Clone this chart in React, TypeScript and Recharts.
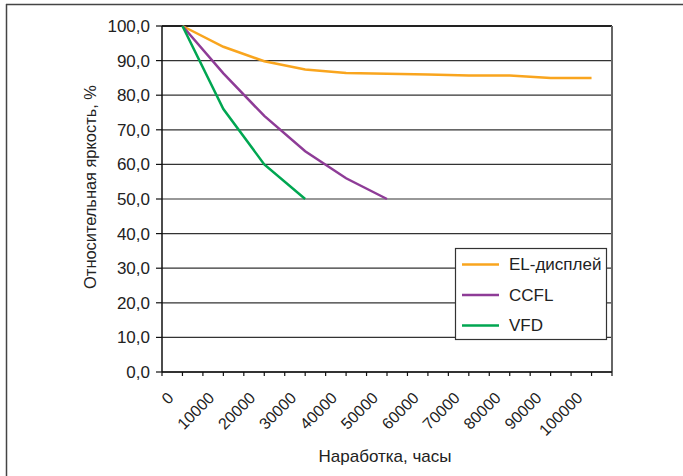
import React from 'react';
import { LineChart, Line, XAxis, YAxis, CartesianGrid, ReferenceLine, Customized } from 'recharts';

const categories = ['0', '10000', '20000', '30000', '40000', '50000', '60000', '70000', '80000', '90000', '100000'];
const elValues = [100, 94, 89.8, 87.4, 86.4, 86.2, 86, 85.7, 85.7, 85, 85];
const ccflValues = [100, 86.3, 74, 63.8, 56, 50];
const vfdValues = [100, 76, 60, 50];
const yTicks = [0, 10, 20, 30, 40, 50, 60, 70, 80, 90, 100];

const seriesNames = ['EL-дисплей', 'CCFL', 'VFD'];
const seriesKeys = ['el', 'ccfl', 'vfd'];
const seriesColors = ['#F9A51E', '#8E3C97', '#00A651'];

const xTitle = 'Наработка, часы';
const yTitle = 'Относительная яркость, %';

const FONT = '"Liberation Sans", Arial, sans-serif';

const data = categories.map((c, i) => ({
  idx: i,
  label: c,
  el: elValues[i] ?? null,
  ccfl: ccflValues[i] ?? null,
  vfd: vfdValues[i] ?? null,
}));

const xTicks: number[] = [];
for (let k = 0; k <= categories.length * 2; k++) xTicks.push(-0.5 + k * 0.5);

const XTick = (props: any) => {
  const { x, y, payload } = props;
  const v = payload.value;
  if (!Number.isInteger(v)) return null;
  const ax = x - 8;
  const ay = y + 23;
  return (
    <text
      x={ax}
      y={ay}
      transform={`rotate(-45 ${ax} ${ay})`}
      textAnchor="end"
      fontSize={16}
      fontFamily={FONT}
      fill="#222"
    >
      {categories[v]}
    </text>
  );
};

const Extras = () => (
  <g>
    <line x1={6} y1={4.5} x2={683} y2={4.5} stroke="#444" strokeWidth={1.5} />
    <line x1={6.5} y1={4} x2={6.5} y2={476} stroke="#444" strokeWidth={1.5} />
    <text
      x={385}
      y={456}
      textAnchor="middle"
      dominantBaseline="central"
      fontSize={17}
      fontFamily={FONT}
      fill="#222"
    >
      {xTitle}
    </text>
    <text
      x={90}
      y={187}
      transform="rotate(-90 90 187)"
      textAnchor="middle"
      dominantBaseline="central"
      fontSize={16.4}
      fontFamily={FONT}
      fill="#222"
    >
      {yTitle}
    </text>
    <rect x={455.5} y={248.5} width={151} height={91} fill="#fff" stroke="#333" strokeWidth={1.2} />
    {seriesNames.map((n, i) => {
      const cy = 264.5 + i * 30.5;
      return (
        <g key={n}>
          <line x1={462} y1={cy} x2={499} y2={cy} stroke={seriesColors[i]} strokeWidth={2.5} />
          <text x={509} y={cy} dominantBaseline="central" fontSize={17} fontFamily={FONT} fill="#222">
            {n}
          </text>
        </g>
      );
    })}
  </g>
);

export default function App() {
  return (
    <div style={{ position: 'absolute', left: 0, top: 0, width: 683, height: 476, background: '#fff' }}>
      <LineChart
        width={683}
        height={476}
        data={data}
        margin={{ top: 26, right: 71, bottom: 44, left: 100 }}
      >
        <CartesianGrid vertical={false} stroke="#333" strokeWidth={1.2} />
        <XAxis
          dataKey="idx"
          type="number"
          domain={[-0.5, 10.5]}
          ticks={xTicks}
          interval={0}
          height={60}
          tickSize={4}
          tickMargin={0}
          tick={<XTick />}
          axisLine={{ stroke: '#111', strokeWidth: 1.5 }}
          tickLine={{ stroke: '#111', strokeWidth: 1.2 }}
        />
        <YAxis
          type="number"
          domain={[0, 100]}
          ticks={yTicks}
          interval={0}
          width={62}
          tickSize={6}
          tickMargin={6}
          tickFormatter={(v: number) => v.toFixed(1).replace('.', ',')}
          tick={{ fontSize: 17, fontFamily: FONT, fill: '#222' }}
          axisLine={{ stroke: '#111', strokeWidth: 1.5 }}
          tickLine={{ stroke: '#111', strokeWidth: 1.2 }}
        />
        <ReferenceLine y={100} stroke="#222" strokeWidth={2} />
        <ReferenceLine x={10.5} stroke="#666" strokeWidth={2} />
        {seriesKeys.map((k, i) => (
          <Line
            key={k}
            dataKey={k}
            name={seriesNames[i]}
            stroke={seriesColors[i]}
            strokeWidth={2.5}
            dot={false}
            activeDot={false}
            isAnimationActive={false}
            connectNulls={false}
            type="linear"
          />
        ))}
        <Customized component={Extras} />
      </LineChart>
    </div>
  );
}
